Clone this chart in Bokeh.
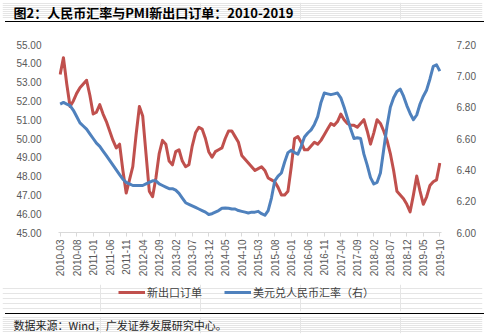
import math
import pandas as pd
from bokeh.plotting import figure
from bokeh.models import (Range1d, LinearAxis, FixedTicker, Legend, LegendItem,
                          ColumnDataSource, NumeralTickFormatter, Div)
from bokeh.core.properties import value
from bokeh.embed import file_html
from bokeh.resources import INLINE

months = [d.strftime("%Y-%m") for d in pd.date_range("2010-03-01", "2019-10-01", freq="MS")]

pmi_new_export = [
    53.4, 54.3, 52.9, 51.7, 52.0, 52.4, 52.7, 52.9, 53.1, 52.3,
    51.3, 51.4, 51.8, 51.3, 50.9, 50.4, 49.9, 49.5, 49.7, 48.3,
    47.1, 47.8, 48.5, 50.2, 51.7, 51.2, 49.2, 47.2, 46.9, 47.9,
    49.2, 49.9, 49.7, 48.8, 48.6, 49.3, 49.4, 48.8, 48.5, 48.6,
    49.6, 50.3, 50.6, 50.5, 50.0, 49.3, 49.0, 49.3, 49.4, 49.5,
    50.0, 50.4, 50.4, 50.1, 49.8, 49.1, 48.9, 48.7, 48.5, 48.3,
    48.4, 48.5, 48.3, 47.9, 47.8, 47.7, 47.4, 47.0, 47.0, 47.2,
    48.5, 50.0, 50.1, 49.8, 49.4, 49.4, 49.6, 49.8, 49.7, 49.9,
    50.2, 50.5, 50.8, 50.7, 50.9, 51.3, 51.0, 50.8, 50.7, 50.7,
    50.6, 50.8, 51.0, 50.4, 49.7, 50.3, 51.0, 50.8, 50.4, 49.9,
    49.2, 48.3, 47.2, 47.0, 46.8, 46.5, 46.1, 47.0, 48.0, 47.2,
    46.5, 46.9, 47.5, 47.7, 47.8, 48.7,
]

usd_cny = [
    6.82, 6.83, 6.82, 6.81, 6.78, 6.74, 6.70, 6.68, 6.66, 6.63,
    6.60, 6.57, 6.55, 6.52, 6.49, 6.46, 6.43, 6.40, 6.37, 6.34,
    6.32, 6.31, 6.30, 6.30, 6.30, 6.30, 6.31, 6.32, 6.33, 6.33,
    6.31, 6.30, 6.29, 6.28, 6.28, 6.27, 6.25, 6.22, 6.19, 6.18,
    6.17, 6.16, 6.15, 6.14, 6.13, 6.115, 6.12, 6.13, 6.14, 6.155,
    6.157, 6.155, 6.15, 6.15, 6.14, 6.135, 6.13, 6.125, 6.13, 6.13,
    6.135, 6.12, 6.11, 6.14, 6.22, 6.33, 6.36, 6.38, 6.45, 6.51,
    6.525, 6.51, 6.50, 6.55, 6.61, 6.635, 6.655, 6.69, 6.74, 6.83,
    6.89, 6.885, 6.88, 6.885, 6.89, 6.86, 6.80, 6.73, 6.66, 6.60,
    6.605, 6.60, 6.50, 6.43, 6.35, 6.31, 6.32, 6.38, 6.53, 6.68,
    6.80, 6.86, 6.90, 6.915, 6.87, 6.81, 6.76, 6.72, 6.75, 6.82,
    6.87, 6.91, 6.98, 7.06, 7.07, 7.03,
]

series_names = ["新出口订单", "美元兑人民币汇率（右）"]
title_text = "图2：人民币汇率与PMI新出口订单：2010-2019"
source_text = "数据来源：Wind，广发证券发展研究中心。"

RED = "#C0504D"
BLUE = "#4F81BD"
CJK = "Noto Sans CJK SC"
LAT = "Liberation Sans"

src = ColumnDataSource(dict(i=list(range(len(months))), m=months,
                            pmi=pmi_new_export, fx=usd_cny))

B = 2  # inset of the frame of the text strips


def blank(h):
    f = figure(width=484, height=h, x_range=Range1d(B, 484 - B), y_range=Range1d(B, h - B),
               output_backend="svg", toolbar_location=None, min_border=B,
               min_border_left=B, min_border_right=B, min_border_top=B, min_border_bottom=B,
               x_axis_location=None, y_axis_location=None, outline_line_color=None)
    return f


def rule():
    return Div(text="", width=479, height=1, margin=(0, 0, 0, 5),
               styles={"background-color": "#000000"})


# ---------- header (title) ----------
header = blank(21)
header.text(x=[13], y=[9], text=[title_text], text_font=value(CJK),
            text_font_style="bold", text_font_size="13px", text_baseline="middle",
            text_color="#000000")
rule_top = rule()

# ---------- main chart ----------
p = figure(width=484, height=260, x_range=Range1d(-0.5, len(months) - 0.5),
           y_range=Range1d(45, 55), output_backend="svg", toolbar_location=None,
           min_border_left=58, min_border_right=43, min_border_top=22, min_border_bottom=50,
           outline_line_color=None)
p.grid.visible = False
p.extra_y_ranges = {"fx": Range1d(6.0, 7.2)}

p.line(x="i", y="pmi", source=src, line_color=RED, line_width=3, line_join="round")
p.line(x="i", y="fx", source=src, y_range_name="fx", line_color=BLUE, line_width=3,
       line_join="round")

ticks = list(range(0, len(months), 5))
xa = p.xaxis[0]
xa.ticker = FixedTicker(ticks=ticks)
xa.major_label_overrides = {t: months[t] for t in ticks}
xa.major_label_orientation = math.pi / 2
xa.axis_line_color = "#D9D9D9"
xa.major_tick_line_color = "#D9D9D9"
xa.major_tick_out = 4
xa.major_tick_in = 0
xa.minor_tick_line_color = None
xa.major_label_standoff = 3
xa.major_label_text_font = LAT
xa.major_label_text_font_size = "10px"
xa.major_label_text_color = "#595959"

ya = p.yaxis[0]
ya.ticker = FixedTicker(ticks=list(range(45, 56)))
ya.formatter = NumeralTickFormatter(format="0.00")
ya.axis_line_color = None
ya.major_tick_line_color = None
ya.minor_tick_line_color = None
ya.major_label_standoff = 11
ya.major_label_text_font = LAT
ya.major_label_text_font_size = "10px"
ya.major_label_text_color = "#595959"

yr = LinearAxis(y_range_name="fx", ticker=FixedTicker(ticks=[6.0, 6.2, 6.4, 6.6, 6.8, 7.0, 7.2]),
                formatter=NumeralTickFormatter(format="0.00"))
yr.axis_line_color = None
yr.major_tick_line_color = None
yr.minor_tick_line_color = None
yr.major_label_standoff = 9
yr.major_label_text_font = LAT
yr.major_label_text_font_size = "10px"
yr.major_label_text_color = "#595959"
p.add_layout(yr, "right")

# ---------- legend strip (series drawn out of view, only their legend shows) ----------
lg = blank(31)
lg.extra_y_ranges = {"fx": Range1d(100, 101)}
k1 = lg.line(x="i", y="pmi", source=src, line_color=RED, line_width=3)
k2 = lg.line(x="i", y="fx", source=src, y_range_name="fx", line_color=BLUE, line_width=3)
legend = Legend(items=[LegendItem(label=series_names[0], renderers=[k1]),
                       LegendItem(label=series_names[1], renderers=[k2])],
                location=(116, 11), orientation="horizontal",
                glyph_width=27, glyph_height=14, label_height=14, label_standoff=2,
                spacing=22, padding=0, margin=0, border_line_color=None,
                background_fill_alpha=0,
                label_text_font=CJK, label_text_font_size="11px",
                label_text_color="#404040")
lg.add_layout(legend, "center")
rule_bottom = rule()

# ---------- footer (source) ----------
footer = blank(21)
footer.text(x=[13], y=[10.5], text=[source_text], text_font=value(CJK),
            text_font_size="11px", text_baseline="middle", text_color="#1F1F1F")

open("out.html", "w").write(file_html([header, rule_top, p, lg, rule_bottom, footer], INLINE))
